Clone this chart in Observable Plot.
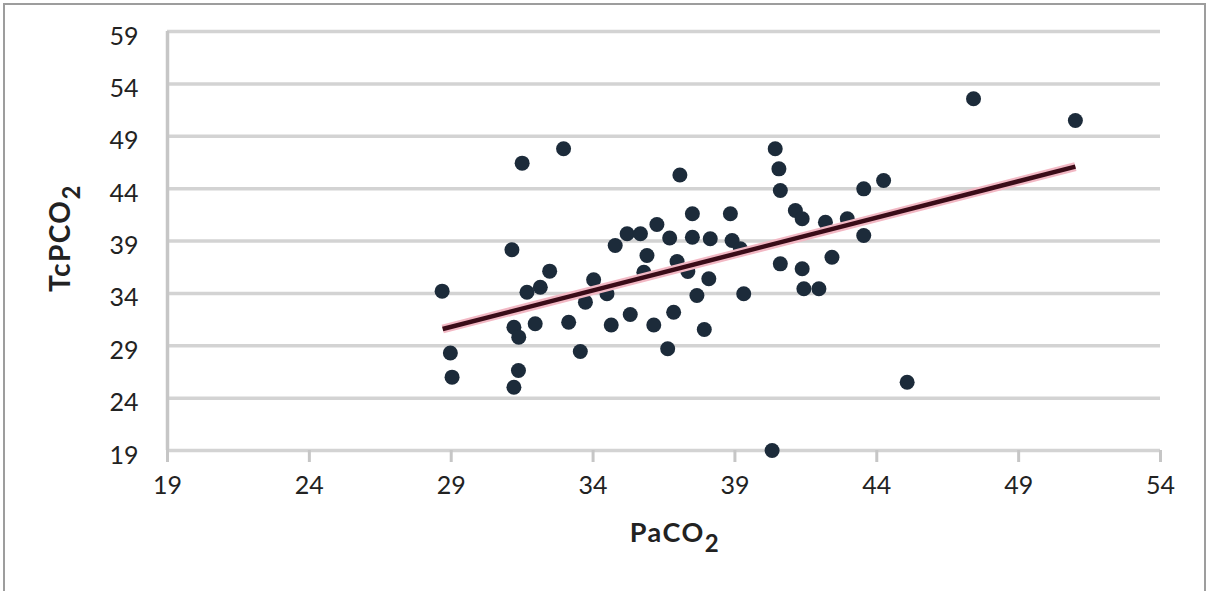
<!DOCTYPE html>
<html>
<head>
<meta charset="utf-8">
<script src="https://cdn.jsdelivr.net/npm/d3@7"></script>
<script src="https://cdn.jsdelivr.net/npm/@observablehq/plot@0.6"></script>
<style>
  html, body { margin: 0; padding: 0; background: #fff; overflow: hidden; }
  #frame { position: absolute; left: 3px; top: 3px; width: 1199px; height: 700px; border: 2px solid #9d9d9d; }
  #chart { position: absolute; left: 0; top: 0; }
</style>
</head>
<body>
<div id="frame"></div>
<div id="chart"></div>
<script>
// PaCO2 (x) and TcPCO2 (y) values
const paco2 = [28.68, 28.97, 29.03, 31.5, 32.96, 31.14, 32.47, 31.67, 32.14, 34.02,
  33.73, 34.49, 34.78, 35.2, 35.67, 36.25, 36.7, 37.5, 37.5, 35.9,
  35.79, 36.96, 37.34, 37.66, 36.84, 36.14, 35.31, 34.64, 33.14, 33.55,
  36.63, 31.37, 31.21, 31.21, 31.96, 31.38, 37.92, 37.06, 40.42, 40.55,
  40.6, 43.54, 44.24, 38.84, 38.13, 38.9, 39.19, 41.13, 41.37, 42.19,
  42.96, 43.54, 42.42, 40.6, 41.37, 41.43, 41.96, 39.31, 38.08, 47.41,
  51.0, 45.07, 40.31];
const tcpco2 = [34.21, 28.31, 26.0, 46.43, 47.8, 38.16, 36.12, 34.11, 34.59, 35.3,
  33.16, 33.96, 38.57, 39.69, 39.69, 40.58, 39.29, 39.36, 41.6, 37.62,
  36.02, 37.04, 36.09, 33.8, 32.2, 30.98, 31.98, 30.98, 31.25, 28.45,
  28.71, 26.64, 25.04, 30.77, 31.1, 29.82, 30.55, 45.3, 47.8, 45.89,
  43.82, 43.98, 44.78, 41.6, 39.21, 39.05, 38.26, 41.91, 41.12, 40.79,
  41.12, 39.53, 37.45, 36.82, 36.35, 34.44, 34.44, 33.96, 35.39, 52.58,
  50.5, 25.52, 19.0];
// trend line end points
const fitX = [28.7, 51.0];
const fitY = [30.6, 46.1];
// tick labels
const xTicks = [19, 24, 29, 34, 39, 44, 49, 54];
const yTicks = [19, 24, 29, 34, 39, 44, 49, 54, 59];

const points = paco2.map((x, i) => ({x, y: tcpco2[i]}));
const fit = fitX.map((x, i) => ({x, y: fitY[i]}));

const font = "Lato, 'Open Sans', sans-serif";

const chart = Plot.plot({
  width: 1210,
  height: 591,
  marginLeft: 167,
  marginRight: 50,
  marginTop: 31,
  marginBottom: 141,
  style: {fontFamily: font, background: "transparent", color: "#222"},
  x: {domain: [19, 54], axis: null},
  y: {domain: [19, 59], axis: null},
  marks: [
    Plot.gridY(yTicks, {stroke: "#d3d3d3", strokeWidth: 3.5, strokeOpacity: 1}),
    Plot.ruleX([19], {stroke: "#c6c6c6", strokeWidth: 3.5}),
    Plot.axisX(xTicks, {tickSize: 12, tickPadding: 14, stroke: "#c6c6c6", strokeWidth: 3,
      fontSize: 25, fill: "#222", label: null, tickFormat: d => String(d)}),
    Plot.axisY(yTicks, {tickSize: 0, tickPadding: 29, dy: 5, fontSize: 25, fill: "#222",
      label: null, tickFormat: d => String(d)}),
    Plot.dot(points, {x: "x", y: "y", r: 7.5, fill: "#1c2b3a", stroke: "none"}),
    Plot.line(fit, {x: "x", y: "y", stroke: "#f2b8c4", strokeWidth: 9, strokeLinecap: "butt"}),
    Plot.line(fit, {x: "x", y: "y", stroke: "#3a0c18", strokeWidth: 4.5, strokeLinecap: "butt"})
  ]
});

document.getElementById("chart").appendChild(chart);

// axis titles with subscripts
const svg = d3.select(chart);
const xt = svg.append("text")
  .attr("x", 675).attr("y", 542)
  .attr("text-anchor", "middle")
  .attr("font-family", font).attr("font-weight", "bold").attr("font-size", 27)
  .attr("letter-spacing", 1.5)
  .attr("fill", "#222");
xt.append("tspan").text("PaCO");
xt.append("tspan").attr("dy", 10).attr("font-size", 24).text("2");

const yt = svg.append("text")
  .attr("transform", "translate(70,238) rotate(-90)")
  .attr("text-anchor", "middle")
  .attr("font-family", font).attr("font-weight", "bold").attr("font-size", 28)
  .attr("letter-spacing", 1.5)
  .attr("fill", "#222");
yt.append("tspan").text("TcPCO");
yt.append("tspan").attr("dy", 10).attr("font-size", 24).text("2");
</script>
</body>
</html>
